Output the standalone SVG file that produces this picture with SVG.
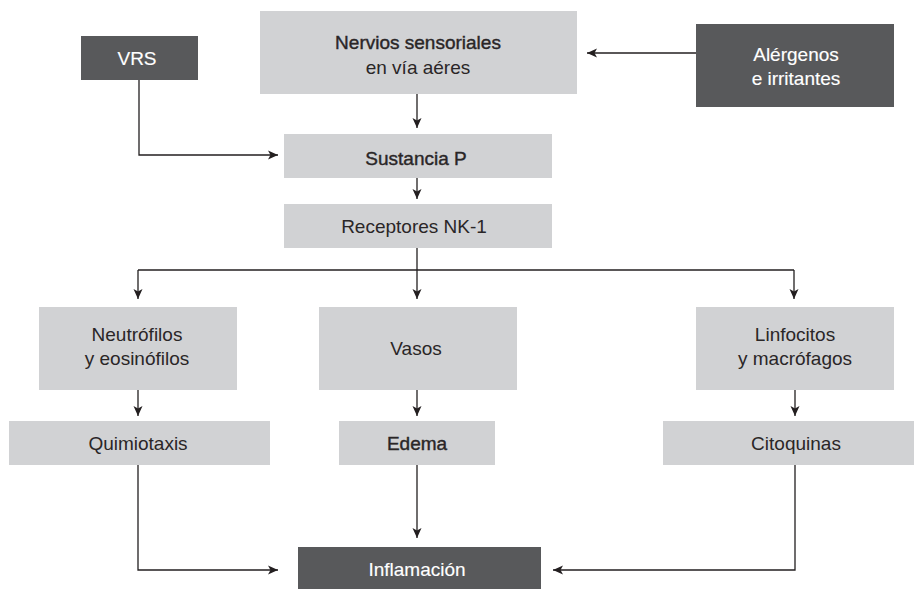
<svg xmlns="http://www.w3.org/2000/svg" width="914" height="589" viewBox="0 0 914 589">
<style>
  .light { fill: #d1d2d4; }
  .dark { fill: #58595b; }
  text { font-family: "Liberation Sans", Arial, sans-serif; font-size: 19px; text-anchor: middle; fill: #2a2627; }
  .w { fill: #ffffff; stroke: #ffffff; stroke-width: 0.15; }
  .b { stroke: #2a2627; stroke-width: 0.4; }
  .conn { fill: none; stroke: #231f20; stroke-width: 1.3; }
</style>
<defs>
  <marker id="ah" markerUnits="userSpaceOnUse" markerWidth="12" markerHeight="12" viewBox="0 0 12 12" refX="11" refY="6" orient="auto">
    <path d="M1,1.5 L11,6 L1,10.5 L3.5,6 z" fill="#231f20"/>
  </marker>
</defs>
<rect width="914" height="589" fill="#ffffff"/>

<g id="connectors">
  <path class="conn" d="M417,94 V128" marker-end="url(#ah)"/>
  <path class="conn" d="M417,178 V199" marker-end="url(#ah)"/>
  <path class="conn" d="M139,80 V155 H278" marker-end="url(#ah)"/>
  <path class="conn" d="M696,53 H587" marker-end="url(#ah)"/>
  <path class="conn" d="M417,248 V270"/>
  <path class="conn" d="M138,270 H794"/>
  <path class="conn" d="M138,270 V299" marker-end="url(#ah)"/>
  <path class="conn" d="M417,270 V299" marker-end="url(#ah)"/>
  <path class="conn" d="M794,270 V299" marker-end="url(#ah)"/>
  <path class="conn" d="M138,390 V416" marker-end="url(#ah)"/>
  <path class="conn" d="M417,390 V416" marker-end="url(#ah)"/>
  <path class="conn" d="M795,390 V416" marker-end="url(#ah)"/>
  <path class="conn" d="M138,465 V570 H278" marker-end="url(#ah)"/>
  <path class="conn" d="M417,465 V538" marker-end="url(#ah)"/>
  <path class="conn" d="M795,465 V570 H553" marker-end="url(#ah)"/>
</g>

<g id="vrs">
  <rect class="dark" x="81" y="36" width="117" height="44"/>
  <text class="w" x="137" y="65">VRS</text>
</g>
<g id="nervios">
  <rect class="light" x="260" y="11" width="317" height="83"/>
  <text class="b" x="418" y="49">Nervios sensoriales</text>
  <text x="418" y="74">en vía aéres</text>
</g>
<g id="alergenos">
  <rect class="dark" x="696" y="24" width="198" height="83"/>
  <text class="w" x="796" y="61">Alérgenos</text>
  <text class="w" x="796" y="85">e irritantes</text>
</g>
<g id="sustancia">
  <rect class="light" x="284" y="134" width="268" height="44"/>
  <text class="b" x="416" y="165">Sustancia P</text>
</g>
<g id="receptores">
  <rect class="light" x="284" y="204" width="268" height="44"/>
  <text x="414" y="233">Receptores NK-1</text>
</g>
<g id="neutrofilos">
  <rect class="light" x="39" y="307" width="198" height="83"/>
  <text x="137" y="341">Neutrófilos</text>
  <text x="137" y="365">y eosinófilos</text>
</g>
<g id="vasos">
  <rect class="light" x="319" y="307" width="198" height="83"/>
  <text x="416" y="355">Vasos</text>
</g>
<g id="linfocitos">
  <rect class="light" x="696" y="307" width="198" height="83"/>
  <text x="795" y="341">Linfocitos</text>
  <text x="795" y="365">y macrófagos</text>
</g>
<g id="quimiotaxis">
  <rect class="light" x="9" y="421" width="261" height="44"/>
  <text x="138" y="450">Quimiotaxis</text>
</g>
<g id="edema">
  <rect class="light" x="339" y="421" width="156" height="44"/>
  <text class="b" x="417" y="450">Edema</text>
</g>
<g id="citoquinas">
  <rect class="light" x="663" y="421" width="251" height="44"/>
  <text x="796" y="450">Citoquinas</text>
</g>
<g id="inflamacion">
  <rect class="dark" x="298" y="547" width="243" height="42"/>
  <text class="w" x="417" y="576">Inflamación</text>
</g>
</svg>
